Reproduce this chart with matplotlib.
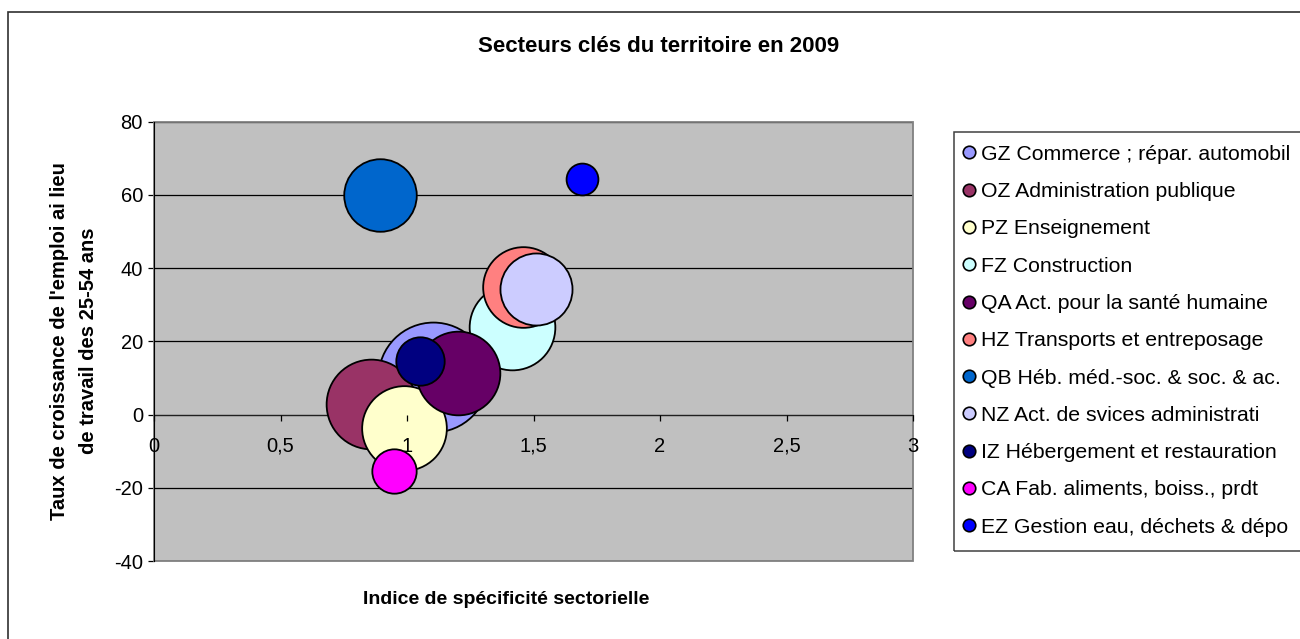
import matplotlib
matplotlib.use('Agg')
import matplotlib.pyplot as plt
from matplotlib.patches import Rectangle
from matplotlib.lines import Line2D

plt.rcParams['font.family'] = ['Liberation Sans', 'DejaVu Sans']

# ---- data ----
sectors = [
    "GZ Commerce ; répar. automobil",
    "OZ Administration publique",
    "PZ Enseignement",
    "FZ Construction",
    "QA Act. pour la santé humaine",
    "HZ Transports et entreposage",
    "QB Héb. méd.-soc. & soc. & ac.",
    "NZ Act. de svices administrati",
    "IZ Hébergement et restauration",
    "CA Fab. aliments, boiss., prdt",
    "EZ Gestion eau, déchets & dépo",
]
indice = [1.102, 0.859, 0.989, 1.414, 1.203, 1.458, 0.894, 1.511, 1.051, 0.949, 1.692]
croissance = [10.2, 2.8, -3.7, 24.0, 11.5, 34.9, 60.0, 34.3, 14.7, -15.4, 64.4]
effectif = [1000, 667, 594, 608, 580, 539, 436, 430, 194, 163, 84]
colors = ['#9999FF', '#993366', '#FFFFCC', '#CCFFFF', '#660066', '#FF8080',
          '#0066CC', '#CCCCFF', '#000080', '#FF00FF', '#0000FF']
xticks = [0, 0.5, 1, 1.5, 2, 2.5, 3]
xticklabels = ['0', '0,5', '1', '1,5', '2', '2,5', '3']
yticks = [-40, -20, 0, 20, 40, 60, 80]

title = "Secteurs clés du territoire en 2009"
xlabel = "Indice de spécificité sectorielle"
ylabel = "Taux de croissance de l'emploi ai lieu\nde travail des 25-54 ans"

W, H = 1300, 639
DPI = 100
fig = plt.figure(figsize=(W / DPI, H / DPI), dpi=DPI)
fig.patch.set_facecolor('white')

# outer chart frame (left and top visible)
fig.patches.append(Rectangle((8 / W, -0.1), 1.2, 1 - 12 / H + 0.1, transform=fig.transFigure,
                             fill=False, edgecolor='#303030', lw=1.2))

L, R, T, B = 154, 913, 121.7, 561.2
ax = fig.add_axes([L / W, 1 - B / H, (R - L) / W, (B - T) / H])
ax.set_facecolor('#C0C0C0')
ax.set_xlim(0, 3)
ax.set_ylim(-40, 80)

# bubbles: area proportional to value, largest diameter = 25% of plot height
dmax_pt = 0.25 * (B - T) * 72 / DPI
vmax = max(effectif)
for i, (name, x, y, v, c) in enumerate(zip(sectors, indice, croissance, effectif, colors)):
    ax.scatter(x, y, s=dmax_pt ** 2 * v / vmax, c=c, edgecolors='black',
               linewidths=1.3, zorder=2 + i * 0.01)

# grid
ax.set_yticks(yticks)
ax.set_yticklabels([str(t) for t in yticks])
ax.yaxis.grid(True, color='black', lw=0.9)
ax.yaxis.set_zorder(1.5)
ax.set_xticks(xticks)
ax.set_xticklabels(xticklabels)
ax.xaxis.set_zorder(3)

for s in ['top', 'right']:
    ax.spines[s].set_visible(False)
ax.spines['bottom'].set_position(('data', 0))
ax.spines['bottom'].set_zorder(1.6)
ax.spines['bottom'].set_color('#202020')
ax.spines['left'].set_color('black')
ax.add_patch(Rectangle((0, 0), 1, 1, transform=ax.transAxes, fill=False,
                       edgecolor='#808080', lw=1.3, zorder=1.55, clip_on=False))

ax.tick_params(axis='x', direction='out', length=4, width=0.9, pad=12,
               labelsize=14.5, colors='black')
ax.tick_params(axis='y', direction='out', length=4, width=0.9, pad=4,
               labelsize=14.5, colors='black')

# titles
fig.text(659 / W, 1 - 47 / H, title, ha='center', va='center', fontsize=16,
         fontweight='bold')
fig.text(506 / W, 1 - 600 / H, xlabel, ha='center', va='center', fontsize=14,
         fontweight='bold')
fig.text(74 / W, 1 - 341 / H, ylabel, ha='center', va='center', rotation=90,
         fontsize=14.5, fontweight='bold', multialignment='center', linespacing=1.65)

# legend (frame drawn separately; it runs past the right edge)
fig.patches.append(Rectangle((954 / W, 1 - 551 / H), 0.5, (551 - 131.7) / H,
                             transform=fig.transFigure, fill=False,
                             edgecolor='#404040', lw=1.1))
handles = [Line2D([], [], linestyle='none', marker='o', markersize=9,
                  markerfacecolor=c, markeredgecolor='black', markeredgewidth=1.2)
           for c in colors]
leg = fig.legend(handles, sectors, loc='upper left',
                 bbox_to_anchor=(950 / W, 1 - 131.7 / H), fontsize=15.3,
                 frameon=False, borderaxespad=0, borderpad=0.62, handlelength=0.55,
                 handletextpad=0.3, labelspacing=0.86)

fig.savefig('out.png', dpi=DPI)
